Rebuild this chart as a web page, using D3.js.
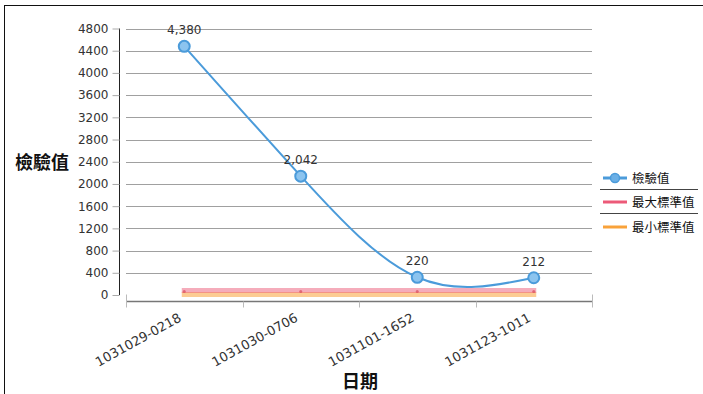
<!DOCTYPE html>
<html>
<head>
<meta charset="utf-8">
<script src="https://cdn.jsdelivr.net/npm/d3@7"></script>
<style>
  body { margin: 0; background: #fff; }
  svg { display: block; }
</style>
</head>
<body>
<svg id="chart" width="703" height="394"></svg>
<script>
const categories = ['1031029-0218', '1031030-0706', '1031101-1652', '1031123-1011'];
const testValues = [4380, 2042, 220, 212];
const maxStandard = [80, 80, 80, 80];
const minStandard = [10, 10, 10, 10];
const yTicks = [0, 400, 800, 1200, 1600, 2000, 2400, 2800, 3200, 3600, 4000, 4400, 4800];
const legendItems = ['檢驗值', '最大標準值', '最小標準值'];

const BLUE = '#4b9bda';
const RED = '#ec5a78';
const ORANGE = '#f9a23a';
const TXT = 'DejaVu Sans, sans-serif';
const CJK = '"Noto Sans CJK TC", "Noto Sans CJK SC", sans-serif';

const svg = d3.select('#chart');

svg.append('rect')
  .attr('x', 4.5).attr('y', 5.5)
  .attr('width', 800).attr('height', 500)
  .attr('fill', 'none').attr('stroke', '#111');

const x = d3.scaleBand().domain(categories).range([126, 592]);
const y = d3.scaleLinear().domain([0, 4800]).range([295, 28.5]);
const cx = c => x(c) + x.bandwidth() / 2;

// grid
svg.append('g')
  .selectAll('line')
  .data(yTicks.filter(d => d > 0))
  .join('line')
  .attr('x1', 126).attr('x2', 592)
  .attr('y1', d => Math.round(y(d)) + 0.5).attr('y2', d => Math.round(y(d)) + 0.5)
  .attr('stroke', '#a0a0a0');

// y axis
const yAxis = svg.append('g')
  .attr('transform', 'translate(119.5,0)')
  .call(d3.axisLeft(y).tickValues(yTicks).tickSize(7).tickPadding(4).tickFormat(d3.format('d')));
yAxis.select('.domain').attr('stroke', '#222').attr('d', `M0,${y(4800)}V${y(0)}`);
yAxis.selectAll('.tick line').attr('stroke', '#aaa');
yAxis.selectAll('.tick text').attr('font-family', TXT).attr('font-size', 12).attr('fill', '#333');

// x axis
const xAxis = svg.append('g')
  .attr('transform', 'translate(0,301.5)');
xAxis.append('line')
  .attr('x1', 126).attr('x2', 592)
  .attr('stroke', '#777').attr('stroke-width', 1.5);
xAxis.selectAll('line.tk')
  .data(d3.range(categories.length + 1))
  .join('line')
  .attr('class', 'tk')
  .attr('x1', i => Math.round(126 + i * x.bandwidth()) + 0.5)
  .attr('x2', i => Math.round(126 + i * x.bandwidth()) + 0.5)
  .attr('y1', (d, i) => (i === 0 || i === categories.length) ? -7 : 0)
  .attr('y2', 6)
  .attr('stroke', '#bbb');
xAxis.selectAll('text')
  .data(categories)
  .join('text')
  .attr('transform', d => `translate(${cx(d) - 2},${19}) rotate(-29)`)
  .attr('text-anchor', 'end')
  .attr('font-family', TXT).attr('font-size', 13).attr('fill', '#333')
  .text(d => d);

// axis titles
svg.append('text')
  .attr('x', 42).attr('y', 169)
  .attr('text-anchor', 'middle')
  .attr('font-family', CJK).attr('font-size', 18).attr('font-weight', 'bold').attr('fill', '#111')
  .text('檢驗值');
svg.append('text')
  .attr('x', 360).attr('y', 388)
  .attr('text-anchor', 'middle')
  .attr('font-family', CJK).attr('font-size', 18).attr('font-weight', 'bold').attr('fill', '#111')
  .text('日期');

// standard lines
const flat = d3.line().x((d, i) => cx(categories[i])).y(d => y(d));
svg.append('path')
  .attr('d', flat(minStandard))
  .attr('fill', 'none').attr('stroke', ORANGE).attr('stroke-opacity', 0.55)
  .attr('stroke-width', 5).attr('stroke-linecap', 'square');
svg.append('path')
  .attr('d', flat(maxStandard))
  .attr('fill', 'none').attr('stroke', RED).attr('stroke-opacity', 0.5)
  .attr('stroke-width', 5).attr('stroke-linecap', 'square');
svg.append('g')
  .selectAll('circle')
  .data(maxStandard)
  .join('circle')
  .attr('cx', (d, i) => cx(categories[i])).attr('cy', d => y(d) + 1)
  .attr('r', 1.5).attr('fill', '#d84a5a').attr('opacity', 0.7);

// main series
const series = svg.append('g').attr('transform', 'translate(0,-5.5)');
const curve = d3.line()
  .x((d, i) => cx(categories[i]))
  .y(d => y(d))
  .curve(d3.curveNatural);
series.append('path')
  .attr('d', curve(testValues))
  .attr('fill', 'none').attr('stroke', BLUE).attr('stroke-width', 2);
series.selectAll('circle')
  .data(testValues)
  .join('circle')
  .attr('cx', (d, i) => cx(categories[i])).attr('cy', d => y(d))
  .attr('r', 5.5)
  .attr('fill', '#8cc4ef').attr('stroke', BLUE).attr('stroke-width', 2);
series.selectAll('text')
  .data(testValues)
  .join('text')
  .attr('x', (d, i) => cx(categories[i])).attr('y', d => y(d) - 12)
  .attr('text-anchor', 'middle')
  .attr('font-family', TXT).attr('font-size', 12).attr('fill', '#333')
  .text(d => d3.format(',')(d));

// legend
const legend = svg.append('g');
const legendY = [178, 202, 227];
const legendColors = [BLUE, RED, ORANGE];
legendItems.forEach((name, i) => {
  legend.append('line')
    .attr('x1', 603).attr('x2', 627)
    .attr('y1', legendY[i]).attr('y2', legendY[i])
    .attr('stroke', legendColors[i]).attr('stroke-width', 3);
  if (i === 0) {
    legend.append('circle')
      .attr('cx', 615).attr('cy', legendY[i]).attr('r', 4.5)
      .attr('fill', '#6aafe6').attr('stroke', BLUE).attr('stroke-width', 1.5);
  }
  legend.append('text')
    .attr('x', 632).attr('y', legendY[i] + 4.5)
    .attr('font-family', CJK).attr('font-size', 12.5).attr('fill', '#111')
    .text(name);
});
[189.5, 213.5].forEach(v => {
  legend.append('line')
    .attr('x1', 600).attr('x2', 698)
    .attr('y1', v).attr('y2', v)
    .attr('stroke', '#444');
});
</script>
</body>
</html>
